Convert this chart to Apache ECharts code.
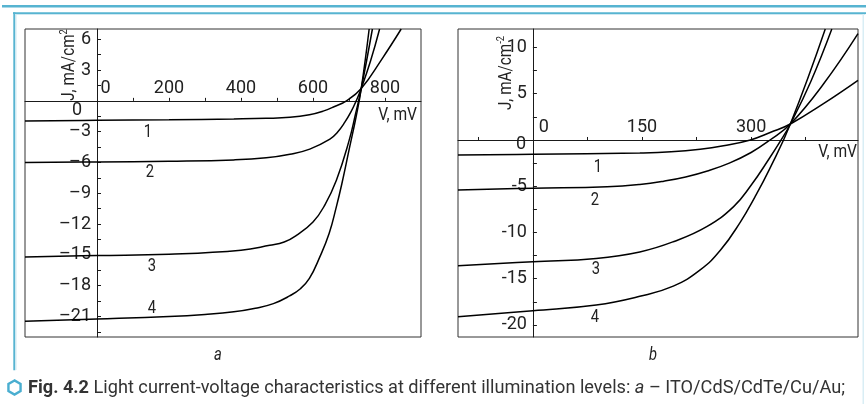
<!DOCTYPE html>
<html>
<head>
<meta charset="utf-8">
<script src="https://cdn.jsdelivr.net/npm/echarts@6.0.0/dist/echarts.min.js"></script>
<style>
  html, body { margin: 0; padding: 0; background: #fff; }
  #chart { width: 866px; height: 404px; }
</style>
</head>
<body>
<div id="chart"></div>
<script>
const FONT = "Roboto, 'Liberation Sans', sans-serif";

// panel a, ITO/CdS/CdTe/Cu/Au : [V, mV ; J, mA/cm2]
const curveA1 = [[-200,-1.95],[0,-1.9],[200,-1.84],[380,-1.76],[470,-1.7],[536,-1.6],[590,-1.35],[628,-1.0],[660,-0.55],[693,0],[734,1.2],[790,4.0],[845,7]];
const curveA2 = [[-200,-6.0],[0,-5.95],[200,-5.88],[380,-5.75],[470,-5.55],[536,-5.2],[591,-4.7],[647,-3.73],[668,-3.05],[688,-2.1],[705,-1.1],[720,0],[734,1.2],[760,3.9],[785,7]];
const curveA3 = [[-200,-15.2],[0,-15.07],[200,-14.94],[400,-14.55],[480,-14.07],[520,-13.75],[554,-13.1],[600,-11.8],[632,-10.2],[665,-7.73],[700,-3.9],[718,-1.3],[734,1.2],[765,7]];
const curveA4 = [[-200,-21.47],[0,-21.25],[200,-21.0],[300,-20.8],[380,-20.55],[440,-20.2],[490,-19.75],[535,-19.0],[565,-18.3],[590,-17.3],[619,-15.2],[645,-12.9],[665,-10.3],[680,-8.1],[700,-4.8],[720,-1.5],[734,1.2],[756,7]];

// panel b
const curveB1 = [[-103,-1.62],[0,-1.55],[147,-1.4],[190,-1.28],[230,-1.0],[262,-0.62],[299,0],[327,0.83],[354,1.73],[399,3.9],[447,6.45]];
const curveB2 = [[-103,-5.4],[0,-5.22],[102,-5.05],[147,-4.8],[180,-4.45],[210,-4.0],[240,-3.35],[270,-2.5],[300,-1.35],[326,0],[354,1.73],[399,6.0],[447,11.5]];
const curveB3 = [[-103,-13.6],[0,-13.16],[87,-12.8],[147,-12.1],[193,-11.0],[239,-9.37],[276,-7.2],[300,-4.9],[325,-2.0],[340,-0.15],[354,1.73],[382,6.3],[411,12]];
const curveB4 = [[-103,-19.1],[0,-18.45],[87,-17.84],[147,-16.9],[193,-15.8],[230,-14.05],[258,-11.9],[285,-8.9],[305,-6.2],[325,-3.2],[354,1.73],[402,12]];

const xLabelsA = [0, 200, 400, 600, 800];
const xTicksA = [100, 200, 300, 400, 500, 600, 700, 800];
const yLabelsA = [6, 3, -3, -6, -9, -12, -15, -18, -21];
const yTicksA = [6, 4.5, 3, 1.5, -1.5, -3, -4.5, -6, -7.5, -9, -10.5, -12, -13.5, -15, -16.5, -18, -19.5, -21, -22.5];

const xLabelsB = [0, 150, 300];
const xTicksB = [-75, 75, 150, 225, 300, 375];
const yLabelsB = [10, 5, -5, -10, -15, -20];
const yTicksB = [10, 7.5, 5, 2.5, -2.5, -5, -7.5, -10, -12.5, -15, -17.5, -20];

const curveNames = ['1', '2', '3', '4'];

const chart = echarts.init(document.getElementById('chart'));

const ink = '#1a1a1a';
const GA = { left: 25, top: 29, width: 396, height: 308, xMin: -200, xMax: 900, yMin: -23, yMax: 7 };
const GB = { left: 458, top: 29, width: 400, height: 308, xMin: -103, xMax: 447, yMin: -21.3, yMax: 12 };

// shift axes from the grid edge to the zero crossing
function xOffset(g) { return -(g.height * (0 - g.yMin) / (g.yMax - g.yMin)); }
function yOffset(g) { return -(g.width * (0 - g.xMin) / (g.xMax - g.xMin)); }

function labelStyle(extra) {
  return Object.assign({ fontFamily: FONT, fontSize: 18, color: '#222' }, extra);
}

function xAxisOf(g, gi, labels, ticks, zeroPad) {
  return {
    type: 'value', gridIndex: gi, min: g.xMin, max: g.xMax, offset: xOffset(g),
    axisLine: { onZero: false, lineStyle: { color: ink, width: 1 } },
    axisTick: { inside: true, length: 3, customValues: ticks, lineStyle: { color: ink } },
    axisLabel: labelStyle({
      inside: true, margin: 3, customValues: labels,
      formatter: v => v === 0 ? '{z|0}' : String(v),
      rich: { z: labelStyle({ padding: [0, 0, 0, zeroPad] }) }
    }),
    splitLine: { show: false }
  };
}

function yAxisOf(g, gi, labels, ticks, fmt) {
  return {
    type: 'value', gridIndex: gi, min: g.yMin, max: g.yMax, offset: yOffset(g),
    axisLine: { onZero: false, lineStyle: { color: ink, width: 1 } },
    axisTick: { inside: true, length: 4, customValues: ticks, lineStyle: { color: ink } },
    axisLabel: labelStyle({ margin: 6, customValues: labels, formatter: fmt }),
    splitLine: { show: false }
  };
}

function line(data, gi) {
  return {
    type: 'line', data: data, xAxisIndex: gi, yAxisIndex: gi,
    showSymbol: false, smooth: 0.45,
    lineStyle: { color: '#000', width: 1.5 }, silent: true, animation: false
  };
}

function txt(x, y, text, extra, sx) {
  return {
    type: 'text', x: x, y: y, silent: true, scaleX: sx || 0.82,
    style: Object.assign({ text: text, fontFamily: FONT, fontSize: 19, fill: '#222', align: 'center', verticalAlign: 'middle' }, extra || {})
  };
}

// fit the caption to its width in the figure
const ctx = document.createElement('canvas').getContext('2d');
function w(font, s) { ctx.font = font; return ctx.measureText(s).width; }
const capBold = 'Fig. 4.2';
const capText1 = ' Light current-voltage characteristics at different illumination levels: ';
const capItal = 'a';
const capText2 = ' \u2013 ITO/CdS/CdTe/Cu/Au;';
const capW = w('bold 19px Roboto', capBold) + w('19px Roboto', capText1) + w('italic 19px Roboto', capItal) + w('19px Roboto', capText2);
const capScale = (845 - 28) / capW;

const hex = [];
for (let k = 0; k < 6; k++) {
  const a = Math.PI / 2 + k * Math.PI / 3;
  hex.push([14.5 + 7 * Math.cos(a), 387.5 - 7 * Math.sin(a)]);
}

const blue = '#57b4d1';
const richName = {
  n: { fontFamily: FONT, fontSize: 18, fill: '#222', lineHeight: 20 },
  s: { fontFamily: FONT, fontSize: 11, fill: '#222', lineHeight: 20, verticalAlign: 'top' }
};

chart.setOption({
  backgroundColor: '#fff',
  animation: false,
  grid: [
    { left: GA.left, top: GA.top, width: GA.width, height: GA.height, show: true, borderColor: '#333', borderWidth: 1, outerBoundsMode: 'none' },
    { left: GB.left, top: GB.top, width: GB.width, height: GB.height, show: true, borderColor: '#333', borderWidth: 1, outerBoundsMode: 'none' }
  ],
  xAxis: [
    xAxisOf(GA, 0, xLabelsA, xTicksA, 17),
    xAxisOf(GB, 1, xLabelsB, xTicksB, 22)
  ],
  yAxis: [
    yAxisOf(GA, 0, yLabelsA, yTicksA, v => v < 0 ? '\u2013' + Math.abs(v) : String(v)),
    yAxisOf(GB, 1, yLabelsB, yTicksB, v => String(v))
  ],
  series: [
    line(curveA1, 0), line(curveA2, 0), line(curveA3, 0), line(curveA4, 0),
    line(curveB1, 1), line(curveB2, 1), line(curveB3, 1), line(curveB4, 1)
  ],
  graphic: [
    // page frame
    { type: 'rect', silent: true, shape: { x: 2, y: 5, width: 864, height: 2.4 }, style: { fill: blue } },
    { type: 'rect', silent: true, shape: { x: 13, y: 12.3, width: 853, height: 1.8 }, style: { fill: blue } },
    { type: 'rect', silent: true, shape: { x: 13.3, y: 12.3, width: 2, height: 358 }, style: { fill: blue } },
    { type: 'rect', silent: true, shape: { x: 15.3, y: 14.1, width: 1.2, height: 356 }, style: { fill: '#cfe9f2' } },
    { type: 'rect', silent: true, shape: { x: 15.3, y: 14.1, width: 850, height: 1 }, style: { fill: '#cfe9f2' } },
    { type: 'rect', silent: true, shape: { x: 862.5, y: 14.1, width: 1.5, height: 390 }, style: { fill: '#d9eef5' } },

    // zero labels of the current axes sit below the voltage axis
    txt(77, 110, '0', { fontSize: 18 }, 1),
    txt(521, 144, '0', { fontSize: 18 }, 1),

    // axis names
    txt(417, 115, 'V, mV', { align: 'right' }),
    txt(857, 152, 'V, mV', { align: 'right' }),
    Object.assign(txt(69, 65, '{n|J, mA/cm}{s|2}', { rich: richName }), { rotation: Math.PI / 2, scaleX: 0.85 }),
    Object.assign(txt(506, 73, '{n|J, mA/cm}{s|-2}', { rich: richName }), { rotation: Math.PI / 2, scaleX: 0.85 }),

    // curve numbers
    txt(148, 132, curveNames[0], { fontSize: 18 }),
    txt(150, 172, curveNames[1], { fontSize: 18 }),
    txt(152, 266, curveNames[2], { fontSize: 18 }),
    txt(152, 308, curveNames[3], { fontSize: 18 }),
    txt(598, 167, curveNames[0], { fontSize: 18 }),
    txt(595, 200, curveNames[1], { fontSize: 18 }),
    txt(596, 269, curveNames[2], { fontSize: 18 }),
    txt(595, 317, curveNames[3], { fontSize: 18 }),

    // panel captions
    txt(218, 355, 'a', { fontStyle: 'italic', fontSize: 18 }),
    txt(653, 355, 'b', { fontStyle: 'italic', fontSize: 18 }),

    // figure caption
    { type: 'polygon', silent: true, shape: { points: hex }, style: { fill: 'none', stroke: '#4aaed0', lineWidth: 2.4 } },
    txt(28, 388, '{b|' + capBold + '}' + capText1 + '{i|' + capItal + '}' + capText2, {
      align: 'left', fill: '#333', fontFamily: 'Roboto',
      rich: {
        b: { fontFamily: 'Roboto', fontSize: 19, fontWeight: 'bold', fill: '#333' },
        i: { fontFamily: 'Roboto', fontSize: 19, fontStyle: 'italic', fill: '#333' }
      }
    }, capScale)
  ]
});
</script>
</body>
</html>
